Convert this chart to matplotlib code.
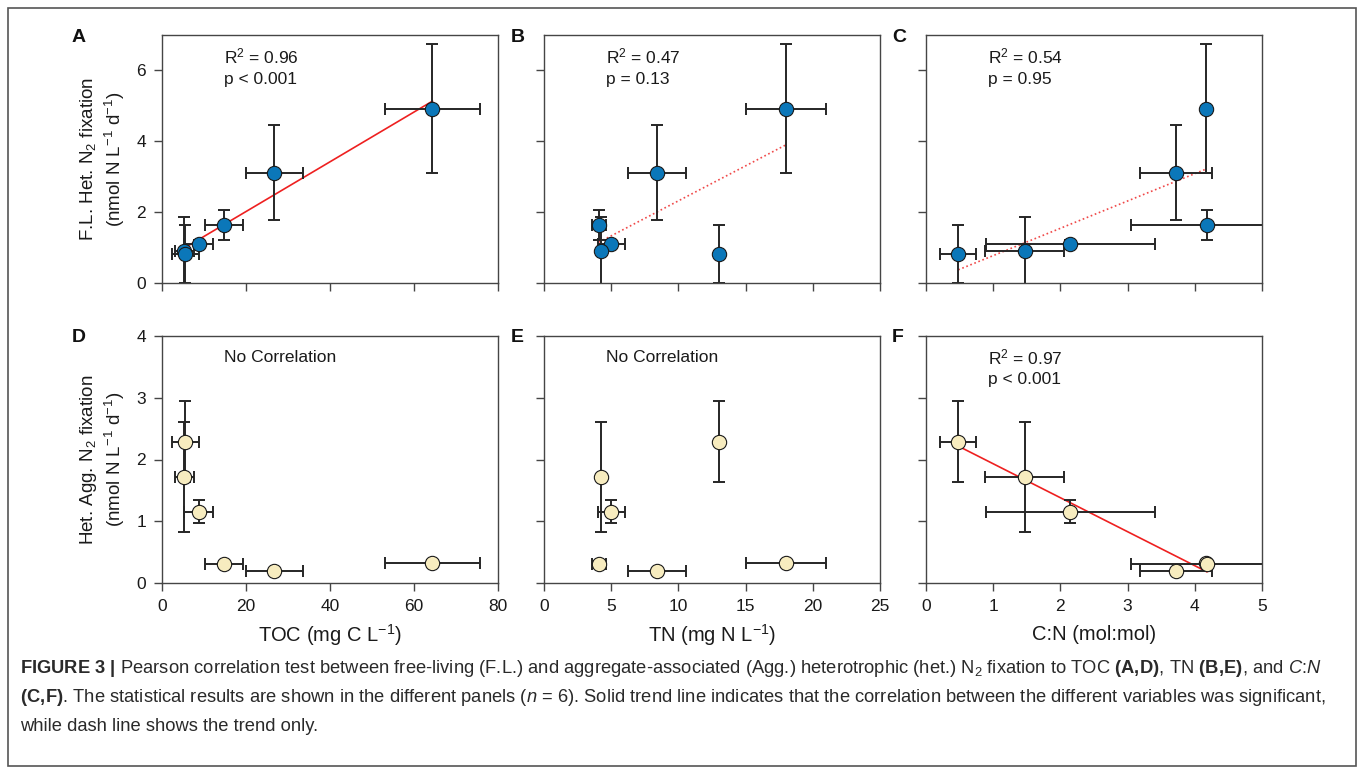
import matplotlib
matplotlib.use("Agg")
import matplotlib.pyplot as plt
import numpy as np
from matplotlib.patches import Rectangle

plt.rcParams['font.family'] = ['Liberation Sans', 'DejaVu Sans']
plt.rcParams['mathtext.fontset'] = 'custom'
plt.rcParams['mathtext.rm'] = 'Liberation Sans'
plt.rcParams['mathtext.it'] = 'Liberation Sans:italic'
plt.rcParams['mathtext.bf'] = 'Liberation Sans:bold'
plt.rcParams['mathtext.default'] = 'regular'

# six samples, same order in every array
toc = [64.4, 26.7, 14.8, 8.7, 5.3, 5.5]
toc_err = [11.2, 6.8, 4.5, 3.5, 2.3, 3.2]
tn = [18.0, 8.4, 4.1, 5.0, 4.25, 13.0]
tn_err = [3.0, 2.15, 0.55, 1.0, 0.0, 0.0]
cn = [4.17, 3.72, 4.18, 2.15, 1.47, 0.48]
cn_err = [0.05, 0.53, 1.13, 1.26, 0.59, 0.27]
fl = [4.92, 3.11, 1.63, 1.10, 0.91, 0.81]
fl_err = [1.82, 1.34, 0.42, 0.10, 0.96, 0.82]
agg = [0.33, 0.195, 0.30, 1.155, 1.72, 2.29]
agg_err = [0.05, 0.0, 0.06, 0.19, 0.89, 0.66]

xvars = [(toc, toc_err, (0, 80), [0, 20, 40, 60, 80]),
         (tn, tn_err, (0, 25), [0, 5, 10, 15, 20, 25]),
         (cn, cn_err, (0, 5), [0, 1, 2, 3, 4, 5])]
xlabels = ["TOC (mg C L$^{-1}$)", "TN (mg N L$^{-1}$)", "C:N (mol:mol)"]
letters = [["A", "B", "C"], ["D", "E", "F"]]
stats = [[["R$^2$ = 0.96", "p < 0.001"], ["R$^2$ = 0.47", "p = 0.13"], ["R$^2$ = 0.54", "p = 0.95"]],
         [["No Correlation"], ["No Correlation"], ["R$^2$ = 0.97", "p < 0.001"]]]
trend = [["-", ":", ":"], [None, None, "-"]]
rows = [(fl, fl_err, "#0b77b9", (0, 7), [0, 2, 4, 6]),
        (agg, agg_err, "#f7ecbf", (0, 4), [0, 1, 2, 3, 4])]

W, H = 1358, 775
fig = plt.figure(figsize=(W / 100, H / 100), dpi=100)

def box(l, t, r, b):
    return [l / W, 1 - b / H, (r - l) / W, (b - t) / H]

lefts = [162, 544, 926]
letter_x = [72, 511, 892]
tops = [(35, 283), (336, 583)]

for r, (yv, ye, col, ylim, yt) in enumerate(rows):
    for c, (xv, xe, xlim, xt) in enumerate(xvars):
        t, b = tops[r]
        ax = fig.add_axes(box(lefts[c], t, lefts[c] + 336, b))
        ax.errorbar(xv, yv, xerr=xe, yerr=ye, fmt='none', ecolor='#262626',
                    elinewidth=1.4, capsize=4.5, capthick=1.4, zorder=2)
        ax.plot(xv, yv, 'o', ms=10.3, mfc=col, mec='#1a1a1a', mew=0.8, zorder=3)
        ls = trend[r][c]
        if ls:
            k, d = np.polyfit(xv, yv, 1)
            xx = np.array([min(xv), max(xv)])
            if ls == "-":
                ax.plot(xx, k * xx + d, color='#ee2020', lw=1.2, zorder=1.5)
            else:
                ax.plot(xx, k * xx + d, color='#f04848', lw=1.2, ls=(0, (1, 1.6)), zorder=1.5)
        ax.set_xlim(xlim)
        ax.set_ylim(ylim)
        ax.set_xticks(xt)
        ax.set_yticks(yt)
        for s in ax.spines.values():
            s.set_color('#454545')
            s.set_linewidth(1.0)
        ax.tick_params(direction='out', length=5.5, width=1, labelsize=12.5,
                       pad=6, color='#454545', labelcolor='#1a1a1a')
        if r == 0:
            ax.tick_params(labelbottom=False)
        if c > 0:
            ax.tick_params(labelleft=False)
        lines = stats[r][c]
        ax.text(0.185, 0.912, lines[0], transform=ax.transAxes, fontsize=12.5,
                va='center', ha='left', color='#1a1a1a')
        if len(lines) > 1:
            ax.text(0.185, 0.822, lines[1], transform=ax.transAxes, fontsize=12.5,
                    va='center', ha='left', color='#1a1a1a')
        fig.text(letter_x[c] / W, 1 - (t + 2) / H, letters[r][c], fontsize=14,
                 fontweight='bold', ha='left', va='center', color='#111111')
        if r == 1:
            fig.text((lefts[c] + 168) / W, 1 - 635 / H, xlabels[c], fontsize=14.5,
                     ha='center', va='center', color='#1a1a1a')

ylab = [("F.L. Het. N$_2$ fixation", "(nmol N L$^{-1}$ d$^{-1}$)"),
        ("Het. Agg. N$_2$ fixation", "(nmol N L$^{-1}$ d$^{-1}$)")]
for r, (l1, l2) in enumerate(ylab):
    yc = 1 - (tops[r][0] + tops[r][1]) / 2 / H
    fig.text(88 / W, yc, l1, rotation=90, fontsize=13.5, ha='center', va='center', color='#1a1a1a')
    fig.text(115 / W, yc, l2, rotation=90, fontsize=13.5, ha='center', va='center', color='#1a1a1a')

caption = [
    r"$\mathbf{FIGURE\ 3\ |}$ Pearson correlation test between free-living (F.L.) and aggregate-associated (Agg.) heterotrophic (het.) N$_2$ fixation to TOC $\mathbf{(A,\!D)}$, TN $\mathbf{(B,\!E)}$, and $\mathit{C}$:$\mathit{N}$",
    r"$\mathbf{(C,\!F)}$. The statistical results are shown in the different panels ($\mathit{n}$ = 6). Solid trend line indicates that the correlation between the different variables was significant,",
    "while dash line shows the trend only.",
]
for i, line in enumerate(caption):
    fig.text(20 / W, 1 - (673 + 29 * i) / H, line, fontsize=13.25, ha='left',
             va='baseline', color='#2a2a2a')

fig.patches.append(Rectangle((8 / W, 1 - 766 / H), 1348 / W, 758 / H, transform=fig.transFigure,
                             fill=False, edgecolor='#555555', lw=1.2))

fig.savefig("out.png", dpi=100)
